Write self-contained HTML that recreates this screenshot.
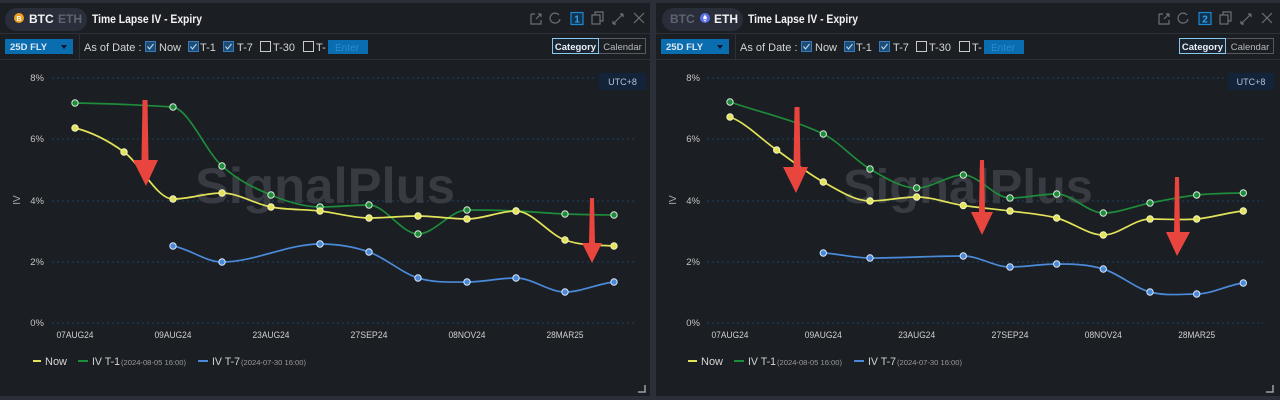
<!DOCTYPE html>
<html><head><meta charset="utf-8"><style>
html,body{margin:0;padding:0;background:#2a2f38;}
svg{display:block;font-family:"Liberation Sans",sans-serif;}
</style></head><body>
<svg width="1280" height="400" viewBox="0 0 1280 400" xmlns="http://www.w3.org/2000/svg">
<rect x="0" y="0" width="1280" height="400" fill="#2a2f38"/>
<rect x="0" y="3" width="650" height="393" fill="#1b1e23"/>
<rect x="656" y="3" width="624" height="393" fill="#1b1e23"/>

<!-- ========== LEFT PANEL ========== -->
<g>
<line x1="0" y1="33.5" x2="650" y2="33.5" stroke="#2c3038"/>
<line x1="0" y1="59.5" x2="650" y2="59.5" stroke="#2c3038"/>
<line x1="79.5" y1="34" x2="79.5" y2="59" stroke="#2c3038"/>
<rect x="5" y="8" width="82" height="23" rx="11.5" fill="#2a2e3a"/>
<circle cx="19" cy="18" r="5" fill="#f0a020"/>
<text x="19" y="21" font-size="7" fill="#fff" text-anchor="middle" font-weight="bold">B</text>
<text x="29" y="23" font-size="12" font-weight="bold" fill="#f2f2f2">BTC</text>
<text x="58" y="23" font-size="12" font-weight="bold" fill="#5d6470">ETH</text>
<text x="92" y="23" font-size="12" font-weight="bold" fill="#f2f2f2" textLength="110" lengthAdjust="spacingAndGlyphs">Time Lapse IV - Expiry</text>
<g stroke="#6b7078" stroke-width="1.2" fill="none">
<path d="M531 14 v10 h10 v-4 M535 14 h-4 M536 19 l5-5 M538 14 h3 v3"/>
<path d="M559 15 a5 5 0 1 0 1 4"/>
<rect x="571" y="12.5" width="12" height="12" stroke="#1d8ad0" fill="#0f3350"/>
<rect x="592" y="15" width="8" height="9"/><path d="M595 15 v-3 h8 v9 h-3"/>
<path d="M613 24 l10-10 M613 24 v-3 M613 24 h3 M623 14 h-3 M623 14 v3"/>
<path d="M634 13 l10 10 M644 13 l-10 10"/>
</g>
<text x="577" y="22.5" font-size="10" font-weight="bold" fill="#3aa0e8" text-anchor="middle">1</text>
<rect x="5" y="39" width="68" height="15" fill="#0a6db0"/>
<text x="10" y="50" font-size="9.5" font-weight="bold" fill="#dde8f2">25D FLY</text>
<path d="M61 45 h6 l-3 4z" fill="#0d1a26"/>
<text x="84" y="51" font-size="11" fill="#d4d4d4">As of Date :</text>
<g font-size="11" fill="#d4d4d4">
<rect x="145.5" y="41.5" width="10" height="10" fill="#1b4d78" stroke="#3a7ab8"/>
<path d="M147.5 46.5 l2 2.5 l4-5" stroke="#b8d4ec" fill="none" stroke-width="1.1"/>
<text x="159" y="51">Now</text>
<rect x="188.5" y="41.5" width="10" height="10" fill="#1b4d78" stroke="#3a7ab8"/>
<path d="M190.5 46.5 l2 2.5 l4-5" stroke="#b8d4ec" fill="none" stroke-width="1.1"/>
<text x="200" y="51">T-1</text>
<rect x="223.5" y="41.5" width="10" height="10" fill="#1b4d78" stroke="#3a7ab8"/>
<path d="M225.5 46.5 l2 2.5 l4-5" stroke="#b8d4ec" fill="none" stroke-width="1.1"/>
<text x="237" y="51">T-7</text>
<rect x="260.5" y="41.5" width="10" height="10" fill="none" stroke="#c8c8c8"/>
<text x="273" y="51">T-30</text>
<rect x="303.5" y="41.5" width="10" height="10" fill="none" stroke="#c8c8c8"/>
<text x="316" y="51">T-</text>
</g>
<rect x="328" y="40" width="40" height="14" fill="#0a6db0"/>
<text x="335" y="51" font-size="10" fill="#2c8ad2">Enter</text>
<rect x="552.5" y="38.5" width="93" height="15" fill="none" stroke="#555a60"/>
<rect x="552.5" y="38.5" width="46" height="15" fill="#1b2530" stroke="#8ac8f0"/>
<text x="575.5" y="50" font-size="9.5" font-weight="bold" fill="#e8f0f8" text-anchor="middle">Category</text>
<text x="622.5" y="50" font-size="9.5" fill="#b8b8b8" text-anchor="middle">Calendar</text>
<rect x="599" y="73" width="47" height="17" fill="#12233a"/>
<text x="622.5" y="85" font-size="9" fill="#b4c4d4" text-anchor="middle">UTC+8</text>
<g stroke="#1e4266" stroke-width="1" stroke-dasharray="2 3">
<line x1="52" y1="78" x2="597" y2="78"/>
<line x1="52" y1="139" x2="636" y2="139"/>
<line x1="52" y1="201" x2="636" y2="201"/>
<line x1="52" y1="262" x2="636" y2="262"/>
<line x1="52" y1="323" x2="636" y2="323"/>
</g>
<g font-size="9.5" fill="#c4c4c4" text-anchor="end">
<text x="44" y="81">8%</text><text x="44" y="142">6%</text><text x="44" y="204">4%</text><text x="44" y="265">2%</text><text x="44" y="326">0%</text>
</g>
<text x="0" y="0" font-size="10" fill="#aaa" transform="translate(20 200) rotate(-90)" text-anchor="middle">IV</text>
<g font-size="9.5" fill="#d0d0d0" text-anchor="middle">
<text x="75" y="338" textLength="37" lengthAdjust="spacingAndGlyphs">07AUG24</text>
<text x="173" y="338" textLength="37" lengthAdjust="spacingAndGlyphs">09AUG24</text>
<text x="271" y="338" textLength="37" lengthAdjust="spacingAndGlyphs">23AUG24</text>
<text x="369" y="338" textLength="37" lengthAdjust="spacingAndGlyphs">27SEP24</text>
<text x="467" y="338" textLength="37" lengthAdjust="spacingAndGlyphs">08NOV24</text>
<text x="565" y="338" textLength="37" lengthAdjust="spacingAndGlyphs">28MAR25</text>
</g>
<text x="195" y="203" font-size="50" font-weight="bold" fill="#383b41" textLength="260" lengthAdjust="spacingAndGlyphs">SignalPlus</text>
<g fill="none" stroke-width="1.7">
<path stroke="#1e8c3a" d="M75 103 C108 103.5, 140 105, 173 107 C189.3 110, 205.7 151.3, 222 166 C238.3 180.7, 254.7 188.2, 271 195 C287.3 201.8, 303.7 207, 320 207 C336.3 207, 352.7 205, 369 205 C385.3 205, 401.7 234, 418 234 C434.3 234, 450.7 210, 467 210 C483.3 210, 499.7 210.3, 516 211 C532.3 211.7, 548.7 213.3, 565 214 C581.3 214.7, 597.7 214.8, 614 215"/>
<path stroke="#e3e35a" d="M75 128 C91.3 132, 107.7 140.2, 124 152 C140.3 163.8, 156.7 199, 173 199 C189.3 199, 205.7 193, 222 193 C238.3 193, 254.7 204, 271 207 C287.3 210, 303.7 209.2, 320 211 C336.3 212.8, 352.7 218, 369 218 C385.3 218, 401.7 216, 418 216 C434.3 216, 450.7 219, 467 219 C483.3 219, 499.7 211, 516 211 C532.3 211, 548.7 234.2, 565 240 C581.3 245.8, 597.7 245, 614 246"/>
<path stroke="#4a8ad8" d="M173 246 C189.3 248.7, 205.7 262, 222 262 C254.7 262, 287.3 244, 320 244 C336.3 244, 352.7 246.3, 369 252 C385.3 257.7, 401.7 273, 418 278 C434.3 283, 450.7 282, 467 282 C483.3 282, 499.7 278, 516 278 C532.3 278, 548.7 292, 565 292 C581.3 292, 597.7 283.7, 614 282"/>
</g>
<g stroke="#d8e8d8" stroke-width="1" fill="#1e8c3a">
<circle cx="75" cy="103" r="3.2"/><circle cx="173" cy="107" r="3.2"/><circle cx="222" cy="166" r="3.2"/><circle cx="271" cy="195" r="3.2"/><circle cx="320" cy="207" r="3.2"/><circle cx="369" cy="205" r="3.2"/><circle cx="418" cy="234" r="3.2"/><circle cx="467" cy="210" r="3.2"/><circle cx="516" cy="211" r="3.2"/><circle cx="565" cy="214" r="3.2"/><circle cx="614" cy="215" r="3.2"/>
</g>
<g stroke="#f4f4c0" stroke-width="1" fill="#e3e35a">
<circle cx="75" cy="128" r="3.2"/><circle cx="124" cy="152" r="3.2"/><circle cx="173" cy="199" r="3.2"/><circle cx="222" cy="193" r="3.2"/><circle cx="271" cy="207" r="3.2"/><circle cx="320" cy="211" r="3.2"/><circle cx="369" cy="218" r="3.2"/><circle cx="418" cy="216" r="3.2"/><circle cx="467" cy="219" r="3.2"/><circle cx="516" cy="211" r="3.2"/><circle cx="565" cy="240" r="3.2"/><circle cx="614" cy="246" r="3.2"/>
</g>
<g stroke="#d8e6f8" stroke-width="1" fill="#4a8ad8">
<circle cx="173" cy="246" r="3.2"/><circle cx="222" cy="262" r="3.2"/><circle cx="320" cy="244" r="3.2"/><circle cx="369" cy="252" r="3.2"/><circle cx="418" cy="278" r="3.2"/><circle cx="467" cy="282" r="3.2"/><circle cx="516" cy="278" r="3.2"/><circle cx="565" cy="292" r="3.2"/><circle cx="614" cy="282" r="3.2"/>
</g>
<g fill="#e8453e">
<polygon points="142.5,100 147.5,100 148.5,160 158,160 146,186 133,160 141.5,160"/>
<polygon points="590,198 594,198 595,243 602,243 592,263 582,243 589,243"/>
</g>
<g stroke-width="2">
<line x1="33" y1="361" x2="41" y2="361" stroke="#e3e35a"/>
<line x1="78" y1="361" x2="88" y2="361" stroke="#1e8c3a"/>
<line x1="198" y1="361" x2="208" y2="361" stroke="#4a8ad8"/>
</g>
<g fill="#d4d4d4">
<text x="45" y="365" font-size="11">Now</text>
<text x="92" y="365" font-size="11" textLength="28" lengthAdjust="spacingAndGlyphs">IV T-1</text>
<text x="121" y="365" font-size="7.5" fill="#9a9a9a" textLength="65" lengthAdjust="spacingAndGlyphs">(2024-08-05 16:00)</text>
<text x="212" y="365" font-size="11" textLength="28" lengthAdjust="spacingAndGlyphs">IV T-7</text>
<text x="241" y="365" font-size="7.5" fill="#9a9a9a" textLength="65" lengthAdjust="spacingAndGlyphs">(2024-07-30 16:00)</text>
</g>
<path d="M638 392 h7 v-7" stroke="#9aa0a8" stroke-width="1.5" fill="none"/>
</g>

<!-- ========== RIGHT PANEL ========== -->
<g>
<line x1="656" y1="33.5" x2="1280" y2="33.5" stroke="#2c3038"/>
<line x1="656" y1="59.5" x2="1280" y2="59.5" stroke="#2c3038"/>
<line x1="735.5" y1="34" x2="735.5" y2="59" stroke="#2c3038"/>
<rect x="662" y="8" width="81" height="23" rx="11.5" fill="#2a2e3a"/>
<text x="670" y="23" font-size="12" font-weight="bold" fill="#5d6470">BTC</text>
<circle cx="705" cy="18" r="5" fill="#5a6ee8"/>
<path d="M705 14.5 l-2.2 3.6 l2.2 1.3 l2.2-1.3z M705 20.2 l-2.2-1.4 l2.2 3 l2.2-3z" fill="#fff"/>
<text x="714" y="23" font-size="12" font-weight="bold" fill="#f2f2f2">ETH</text>
<text x="748" y="23" font-size="12" font-weight="bold" fill="#f2f2f2" textLength="110" lengthAdjust="spacingAndGlyphs">Time Lapse IV - Expiry</text>
<g stroke="#6b7078" stroke-width="1.2" fill="none">
<path d="M1159 14 v10 h10 v-4 M1163 14 h-4 M1164 19 l5-5 M1166 14 h3 v3"/>
<path d="M1187 15 a5 5 0 1 0 1 4"/>
<rect x="1199" y="12.5" width="12" height="12" stroke="#1d8ad0" fill="#0f3350"/>
<rect x="1220" y="15" width="8" height="9"/><path d="M1223 15 v-3 h8 v9 h-3"/>
<path d="M1241 24 l10-10 M1241 24 v-3 M1241 24 h3 M1251 14 h-3 M1251 14 v3"/>
<path d="M1262 13 l10 10 M1272 13 l-10 10"/>
</g>
<text x="1205" y="22.5" font-size="10" font-weight="bold" fill="#3aa0e8" text-anchor="middle">2</text>
<rect x="661" y="39" width="68" height="15" fill="#0a6db0"/>
<text x="666" y="50" font-size="9.5" font-weight="bold" fill="#dde8f2">25D FLY</text>
<path d="M717 45 h6 l-3 4z" fill="#0d1a26"/>
<text x="740" y="51" font-size="11" fill="#d4d4d4">As of Date :</text>
<g font-size="11" fill="#d4d4d4">
<rect x="801.5" y="41.5" width="10" height="10" fill="#1b4d78" stroke="#3a7ab8"/>
<path d="M803.5 46.5 l2 2.5 l4-5" stroke="#b8d4ec" fill="none" stroke-width="1.1"/>
<text x="815" y="51">Now</text>
<rect x="844.5" y="41.5" width="10" height="10" fill="#1b4d78" stroke="#3a7ab8"/>
<path d="M846.5 46.5 l2 2.5 l4-5" stroke="#b8d4ec" fill="none" stroke-width="1.1"/>
<text x="856" y="51">T-1</text>
<rect x="879.5" y="41.5" width="10" height="10" fill="#1b4d78" stroke="#3a7ab8"/>
<path d="M881.5 46.5 l2 2.5 l4-5" stroke="#b8d4ec" fill="none" stroke-width="1.1"/>
<text x="893" y="51">T-7</text>
<rect x="916.5" y="41.5" width="10" height="10" fill="none" stroke="#c8c8c8"/>
<text x="929" y="51">T-30</text>
<rect x="959.5" y="41.5" width="10" height="10" fill="none" stroke="#c8c8c8"/>
<text x="972" y="51">T-</text>
</g>
<rect x="984" y="40" width="40" height="14" fill="#0a6db0"/>
<text x="991" y="51" font-size="10" fill="#2c8ad2">Enter</text>
<rect x="1179.5" y="38.5" width="94" height="15" fill="none" stroke="#555a60"/>
<rect x="1179.5" y="38.5" width="46" height="15" fill="#1b2530" stroke="#8ac8f0"/>
<text x="1202.5" y="50" font-size="9.5" font-weight="bold" fill="#e8f0f8" text-anchor="middle">Category</text>
<text x="1250" y="50" font-size="9.5" fill="#b8b8b8" text-anchor="middle">Calendar</text>
<rect x="1228" y="73" width="46" height="17" fill="#12233a"/>
<text x="1251" y="85" font-size="9" fill="#b4c4d4" text-anchor="middle">UTC+8</text>
<g stroke="#1e4266" stroke-width="1" stroke-dasharray="2 3">
<line x1="707" y1="78" x2="1224" y2="78"/>
<line x1="707" y1="139" x2="1263" y2="139"/>
<line x1="707" y1="201" x2="1263" y2="201"/>
<line x1="707" y1="262" x2="1263" y2="262"/>
<line x1="707" y1="323" x2="1263" y2="323"/>
</g>
<g font-size="9.5" fill="#c4c4c4" text-anchor="end">
<text x="700" y="81">8%</text><text x="700" y="142">6%</text><text x="700" y="204">4%</text><text x="700" y="265">2%</text><text x="700" y="326">0%</text>
</g>
<text x="0" y="0" font-size="10" fill="#aaa" transform="translate(676 200) rotate(-90)" text-anchor="middle">IV</text>
<g font-size="9.5" fill="#d0d0d0" text-anchor="middle">
<text x="730" y="338" textLength="37" lengthAdjust="spacingAndGlyphs">07AUG24</text>
<text x="823.3" y="338" textLength="37" lengthAdjust="spacingAndGlyphs">09AUG24</text>
<text x="916.7" y="338" textLength="37" lengthAdjust="spacingAndGlyphs">23AUG24</text>
<text x="1010" y="338" textLength="37" lengthAdjust="spacingAndGlyphs">27SEP24</text>
<text x="1103.3" y="338" textLength="37" lengthAdjust="spacingAndGlyphs">08NOV24</text>
<text x="1196.7" y="338" textLength="37" lengthAdjust="spacingAndGlyphs">28MAR25</text>
</g>
<text x="843" y="203" font-size="48" font-weight="bold" fill="#383b41" textLength="250" lengthAdjust="spacingAndGlyphs">SignalPlus</text>
<g fill="none" stroke-width="1.7">
<path stroke="#1e8c3a" d="M730 102 C761.1 112.7, 792.2 119.1, 823.3 134 C838.9 141.5, 854.4 160, 870 169 C885.6 178, 901.1 188, 916.7 188 C932.2 188, 947.8 175, 963.3 175 C978.9 175, 994.4 198, 1010 198 C1025.6 198, 1041.1 194, 1056.7 194 C1072.2 194, 1087.8 213, 1103.3 213 C1118.9 213, 1134.4 206, 1150 203 C1165.6 200, 1181.1 196.7, 1196.7 195 C1212.2 193.3, 1227.8 193.3, 1243.3 193"/>
<path stroke="#e3e35a" d="M730 117 C745.6 122.5, 761.1 139.2, 776.7 150 C792.2 160.8, 807.8 173.5, 823.3 182 C838.9 190.5, 854.4 201, 870 201 C885.6 201, 901.1 197, 916.7 197 C932.2 197, 947.8 203.2, 963.3 205.5 C978.9 207.8, 994.4 208.9, 1010 211 C1025.6 213.1, 1041.1 214, 1056.7 218 C1072.2 222, 1087.8 235, 1103.3 235 C1118.9 235, 1134.4 219, 1150 219 C1165.6 219, 1181.1 220.3, 1196.7 219 C1212.2 217.7, 1227.8 212.3, 1243.3 211"/>
<path stroke="#4a8ad8" d="M823.3 253 C838.9 253.8, 854.4 258, 870 258 C901.1 258, 932.2 256, 963.3 256 C978.9 256, 994.4 267, 1010 267 C1025.6 267, 1041.1 264, 1056.7 264 C1072.2 264, 1087.8 264.3, 1103.3 269 C1118.9 273.7, 1134.4 287.8, 1150 292 C1165.6 296.2, 1181.1 294, 1196.7 294 C1212.2 294, 1227.8 284.8, 1243.3 283"/>
</g>
<g stroke="#d8e8d8" stroke-width="1" fill="#1e8c3a">
<circle cx="730" cy="102" r="3.2"/><circle cx="823.3" cy="134" r="3.2"/><circle cx="870" cy="169" r="3.2"/><circle cx="916.7" cy="188" r="3.2"/><circle cx="963.3" cy="175" r="3.2"/><circle cx="1010" cy="198" r="3.2"/><circle cx="1056.7" cy="194" r="3.2"/><circle cx="1103.3" cy="213" r="3.2"/><circle cx="1150" cy="203" r="3.2"/><circle cx="1196.7" cy="195" r="3.2"/><circle cx="1243.3" cy="193" r="3.2"/>
</g>
<g stroke="#f4f4c0" stroke-width="1" fill="#e3e35a">
<circle cx="730" cy="117" r="3.2"/><circle cx="776.7" cy="150" r="3.2"/><circle cx="823.3" cy="182" r="3.2"/><circle cx="870" cy="201" r="3.2"/><circle cx="916.7" cy="197" r="3.2"/><circle cx="963.3" cy="205.5" r="3.2"/><circle cx="1010" cy="211" r="3.2"/><circle cx="1056.7" cy="218" r="3.2"/><circle cx="1103.3" cy="235" r="3.2"/><circle cx="1150" cy="219" r="3.2"/><circle cx="1196.7" cy="219" r="3.2"/><circle cx="1243.3" cy="211" r="3.2"/>
</g>
<g stroke="#d8e6f8" stroke-width="1" fill="#4a8ad8">
<circle cx="823.3" cy="253" r="3.2"/><circle cx="870" cy="258" r="3.2"/><circle cx="963.3" cy="256" r="3.2"/><circle cx="1010" cy="267" r="3.2"/><circle cx="1056.7" cy="264" r="3.2"/><circle cx="1103.3" cy="269" r="3.2"/><circle cx="1150" cy="292" r="3.2"/><circle cx="1196.7" cy="294" r="3.2"/><circle cx="1243.3" cy="283" r="3.2"/>
</g>
<g fill="#e8453e">
<polygon points="794.5,107 799.5,107 800.5,167 808,167 796,193 783,167 793.5,167"/>
<polygon points="980,160 984,160 985,212 993,212 982,235 971,212 979,212"/>
<polygon points="1175,177 1179,177 1180,232 1190,232 1177,256 1166,232 1174,232"/>
</g>
<g stroke-width="2">
<line x1="688" y1="361" x2="697" y2="361" stroke="#e3e35a"/>
<line x1="734" y1="361" x2="744" y2="361" stroke="#1e8c3a"/>
<line x1="854" y1="361" x2="864" y2="361" stroke="#4a8ad8"/>
</g>
<g fill="#d4d4d4">
<text x="701" y="365" font-size="11">Now</text>
<text x="748" y="365" font-size="11" textLength="28" lengthAdjust="spacingAndGlyphs">IV T-1</text>
<text x="777" y="365" font-size="7.5" fill="#9a9a9a" textLength="65" lengthAdjust="spacingAndGlyphs">(2024-08-05 16:00)</text>
<text x="868" y="365" font-size="11" textLength="28" lengthAdjust="spacingAndGlyphs">IV T-7</text>
<text x="897" y="365" font-size="7.5" fill="#9a9a9a" textLength="65" lengthAdjust="spacingAndGlyphs">(2024-07-30 16:00)</text>
</g>
<path d="M1266 392 h7 v-7" stroke="#9aa0a8" stroke-width="1.5" fill="none"/>
</g>
</svg>
</body></html>
